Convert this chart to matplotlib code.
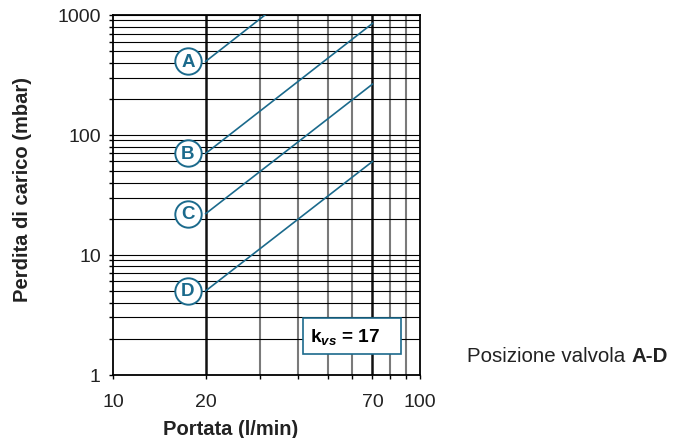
import matplotlib
matplotlib.use('Agg')
import matplotlib.pyplot as plt
from matplotlib.patches import Rectangle
from matplotlib.ticker import FixedLocator, NullFormatter

plt.rcParams['font.family'] = ['Liberation Sans', 'DejaVu Sans']
plt.rcParams['mathtext.fontset'] = 'custom'
plt.rcParams['mathtext.rm'] = 'Liberation Sans'
plt.rcParams['mathtext.bf'] = 'Liberation Sans:bold'
plt.rcParams['mathtext.it'] = 'Liberation Sans:italic:bold'

# data: flow (l/min) vs pressure drop (mbar)
flow = [20, 70]
valves = ['A', 'B', 'C', 'D']
dp = {
    'A': [410, 5020],
    'B': [70, 850],
    'C': [22, 265],
    'D': [5, 60],
}
label_flow = 17.5
x_ticks = [10, 20, 70, 100]
x_minor = [30, 40, 50, 60, 80, 90]
y_ticks = [1, 10, 100, 1000]
kvs = 17

teal = '#1b6a8c'
txt = '#222222'

fig = plt.figure(figsize=(6.75, 4.39), dpi=100)
ax = fig.add_axes([0.1679, 0.1442, 0.4543, 0.8194])
ax.set_xscale('log')
ax.set_yscale('log')
ax.set_xlim(10, 100)
ax.set_ylim(1, 1000)

# grid
ax.grid(which='both', axis='y', color='black', lw=0.8)
for v in x_minor:
    ax.axvline(v, color='#7a7a7a', lw=1.5, zorder=1)
ax.axvline(20, color='#111111', lw=1.8, zorder=1.5)
ax.axvline(70, color='#111111', lw=1.8, zorder=1.5)

for v in valves:
    ax.plot(flow, dp[v], color=teal, lw=1.2, zorder=3)
    ax.plot(label_flow, dp[v][0], 'o', ms=19, mfc='white', mec=teal,
            mew=1.4, zorder=4, clip_on=False)
    ax.text(label_flow, dp[v][0], v, color=teal, fontsize=13.5,
            fontweight='bold', ha='center', va='center', zorder=5)

ax.set_xticks(x_ticks)
ax.set_xticklabels([str(t) for t in x_ticks])
ax.xaxis.set_minor_locator(FixedLocator(x_minor))
ax.xaxis.set_minor_formatter(NullFormatter())
ax.set_yticks(y_ticks)
ax.set_yticklabels([str(t) for t in y_ticks])
ax.yaxis.set_minor_formatter(NullFormatter())
ax.tick_params(which='both', direction='out', length=3, width=1, color='black',
               labelsize=14, labelcolor=txt)
ax.tick_params(axis='y', pad=6)
ax.tick_params(axis='x', pad=10)
for s in ax.spines.values():
    s.set_linewidth(1.3)
    s.set_color('black')

# kvs box
ax.add_patch(Rectangle((0.619, 0.0575), 0.319, 0.1005, transform=ax.transAxes,
                       facecolor='white', edgecolor=teal, lw=1.2, zorder=6))
ax.text(0.642, 0.108, r'$\mathbf{k}_{vs}$ = %d' % kvs, transform=ax.transAxes,
        fontsize=13.7, fontweight='bold', ha='left', va='center', zorder=7)

fig.text(0.033, 0.569, 'Perdita di carico (mbar)', rotation=90, fontsize=14.5,
         fontweight='bold', ha='center', va='center', color=txt)
fig.text(0.341, 0.022, 'Portata (l/min)', fontsize=14.5, fontweight='bold',
         ha='center', va='center', color=txt)

t1 = fig.text(0.692, 0.187, 'Posizione valvola ', fontsize=14.8, ha='left',
              va='center', color=txt)
ax.annotate('A-D', xy=(1, 0.5), xycoords=t1, va='center', ha='left',
            fontsize=14.8, fontweight='bold', color=txt, annotation_clip=False)

fig.savefig('out.png', dpi=100)
